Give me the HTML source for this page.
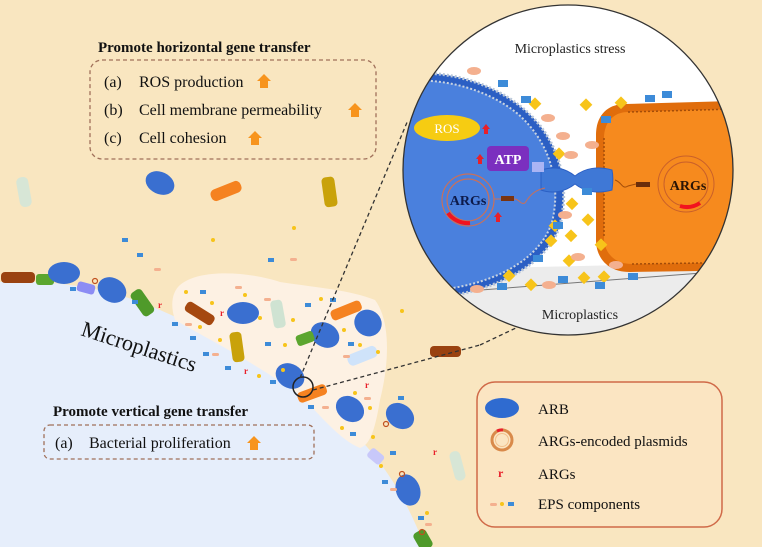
<!DOCTYPE html>
<html><head><meta charset="utf-8"><style>
html,body{margin:0;padding:0;background:#f9e6c0;}
svg{display:block;font-family:"Liberation Serif",serif;}
</style></head><body>
<svg width="762" height="547" viewBox="0 0 762 547" xmlns="http://www.w3.org/2000/svg">
<defs>
<clipPath id="cc"><circle cx="568" cy="170" r="165"/></clipPath>
<g id="up"><path d="M-4,0 L4,0 L4,-7 L7,-7 L0,-14 L-7,-7 L-4,-7 Z" fill="#f7941d"/></g>
<g id="rup"><path d="M-2,0 L2,0 L2,-5 L4,-5 L0,-10 L-4,-5 L-2,-5 Z" fill="#e8202a"/></g>
</defs>
<rect width="762" height="547" fill="#f9e6c0"/>
<!-- microplastic surface -->
<path d="M0,282 C60,280 110,288 160,310 C230,340 290,380 340,420 C380,455 405,495 425,547 L0,547 Z" fill="#e6eefb"/>
<!-- EPS cloud -->
<path d="M180,285 C200,268 250,272 280,282 C320,288 350,290 375,300 C390,320 390,360 380,400 C375,430 370,445 360,448 C340,440 320,415 300,395 C250,360 210,340 175,320 C170,305 172,292 180,285 Z" fill="#fdf1e3"/>
<!-- free bacteria -->
<ellipse cx="160" cy="183" rx="15" ry="11" transform="rotate(25 160 183)" fill="#3a6fd0"/>
<rect x="210" y="185" width="32" height="12" rx="5" transform="rotate(-22 226 191)" fill="#f58220"/>
<rect x="323" y="177" width="13" height="30" rx="4" transform="rotate(-8 329 192)" fill="#c9a20a"/>
<rect x="18" y="177" width="12" height="30" rx="5" transform="rotate(-10 24 192)" fill="#d7e6d6"/>
<rect x="430" y="346" width="31" height="11" rx="4" fill="#9a4210"/>
<rect x="452" y="451" width="11" height="30" rx="5" transform="rotate(-15 457 466)" fill="#d7e6d6"/>
<!-- attached -->
<rect x="1" y="272" width="34" height="11" rx="4" fill="#9a4210"/>
<rect x="36" y="274" width="18" height="11" rx="3" fill="#5ca62f"/>
<ellipse cx="64" cy="273" rx="16" ry="11" fill="#3a6fd0"/>
<rect x="77" y="283" width="18" height="10" rx="3" transform="rotate(15 86 288)" fill="#8c8cf4"/>
<ellipse cx="112" cy="290" rx="15" ry="12" transform="rotate(30 112 290)" fill="#3a6fd0"/>
<rect x="136" y="289" width="13" height="28" rx="4" transform="rotate(-35 142 303)" fill="#4f9a2a"/>
<rect x="184" y="308" width="32" height="11" rx="4" transform="rotate(32 200 313)" fill="#a5480f"/>
<ellipse cx="243" cy="313" rx="16" ry="11" fill="#3a6fd0"/>
<rect x="272" y="300" width="12" height="28" rx="4" transform="rotate(-10 278 314)" fill="#cfe3d2"/>
<rect x="231" y="332" width="12" height="30" rx="4" transform="rotate(-8 237 347)" fill="#c9a20a"/>
<rect x="330" y="305" width="32" height="11" rx="4" transform="rotate(-22 346 310)" fill="#f58220"/>
<ellipse cx="368" cy="323" rx="14" ry="13" transform="rotate(35 368 323)" fill="#3a6fd0"/>
<ellipse cx="325" cy="335" rx="15" ry="12" transform="rotate(30 325 335)" fill="#3a6fd0"/>
<rect x="296" y="333" width="18" height="11" rx="3" transform="rotate(-20 305 338)" fill="#5ca62f"/>
<rect x="347" y="350" width="31" height="12" rx="5" transform="rotate(-22 362 356)" fill="#cfe3fa"/>
<ellipse cx="290" cy="376" rx="15" ry="12" transform="rotate(30 290 376)" fill="#3a6fd0"/>
<rect x="297" y="388" width="30" height="11" rx="4" transform="rotate(-20 312 393)" fill="#f58220"/>
<ellipse cx="350" cy="409" rx="15" ry="12" transform="rotate(35 350 409)" fill="#3a6fd0"/>
<ellipse cx="400" cy="416" rx="15" ry="12" transform="rotate(35 400 416)" fill="#3a6fd0"/>
<rect x="368" y="451" width="16" height="11" rx="3" transform="rotate(40 376 456)" fill="#c8c8fa"/>
<ellipse cx="408" cy="490" rx="12" ry="16" transform="rotate(-20 408 490)" fill="#3a6fd0"/>
<rect x="416" y="530" width="14" height="20" rx="4" transform="rotate(-30 423 540)" fill="#4f9a2a"/>
<!-- EPS dots -->
<g fill="#3d8bd8">
<rect x="122" y="238" width="6" height="4"/><rect x="137" y="253" width="6" height="4"/><rect x="268" y="258" width="6" height="4"/>
<rect x="70" y="287" width="6" height="4"/><rect x="132" y="300" width="6" height="4"/><rect x="172" y="322" width="6" height="4"/>
<rect x="200" y="290" width="6" height="4"/><rect x="190" y="336" width="6" height="4"/><rect x="203" y="352" width="6" height="4"/>
<rect x="265" y="342" width="6" height="4"/><rect x="305" y="303" width="6" height="4"/><rect x="330" y="298" width="6" height="4"/>
<rect x="348" y="342" width="6" height="4"/><rect x="225" y="366" width="6" height="4"/><rect x="270" y="380" width="6" height="4"/>
<rect x="308" y="405" width="6" height="4"/><rect x="350" y="432" width="6" height="4"/><rect x="390" y="451" width="6" height="4"/>
<rect x="382" y="480" width="6" height="4"/><rect x="418" y="516" width="6" height="4"/><rect x="398" y="396" width="6" height="4"/>
</g>
<g fill="#f7c41a">
<circle cx="213" cy="240" r="2"/><circle cx="294" cy="228" r="2"/><circle cx="186" cy="292" r="2"/><circle cx="245" cy="295" r="2"/>
<circle cx="212" cy="303" r="2"/><circle cx="200" cy="327" r="2"/><circle cx="220" cy="340" r="2"/><circle cx="260" cy="318" r="2"/>
<circle cx="285" cy="345" r="2"/><circle cx="293" cy="320" r="2"/><circle cx="321" cy="299" r="2"/><circle cx="259" cy="376" r="2"/>
<circle cx="344" cy="330" r="2"/><circle cx="360" cy="345" r="2"/><circle cx="378" cy="352" r="2"/><circle cx="402" cy="311" r="2"/>
<circle cx="283" cy="370" r="2"/><circle cx="355" cy="393" r="2"/><circle cx="370" cy="408" r="2"/><circle cx="342" cy="428" r="2"/>
<circle cx="373" cy="437" r="2"/><circle cx="381" cy="466" r="2"/><circle cx="427" cy="513" r="2"/>
</g>
<g fill="#f4b08f">
<rect x="154" y="268" width="7" height="3" rx="1.5"/><rect x="235" y="286" width="7" height="3" rx="1.5"/><rect x="290" y="258" width="7" height="3" rx="1.5"/>
<rect x="185" y="323" width="7" height="3" rx="1.5"/><rect x="264" y="298" width="7" height="3" rx="1.5"/><rect x="212" y="353" width="7" height="3" rx="1.5"/>
<rect x="343" y="355" width="7" height="3" rx="1.5"/><rect x="364" y="397" width="7" height="3" rx="1.5"/><rect x="322" y="406" width="7" height="3" rx="1.5"/>
<rect x="390" y="488" width="7" height="3" rx="1.5"/><rect x="425" y="523" width="7" height="3" rx="1.5"/>
</g>
<g fill="#e8202a" font-size="9" font-weight="bold">
<text x="158" y="308">r</text><text x="220" y="316">r</text><text x="244" y="374">r</text><text x="365" y="388">r</text><text x="433" y="455">r</text>
</g>
<circle cx="95" cy="281" r="2.5" fill="none" stroke="#c0501f" stroke-width="1.2"/>
<circle cx="386" cy="424" r="2.5" fill="none" stroke="#c0501f" stroke-width="1.2"/>
<circle cx="402" cy="474" r="2.5" fill="none" stroke="#c0501f" stroke-width="1.2"/>
<circle cx="422" cy="532" r="2.5" fill="none" stroke="#c0501f" stroke-width="1.2"/>
<!-- Microplastics label -->
<text x="80" y="335" font-size="22" transform="rotate(18 80 335)" fill="#111">Microplastics</text>
<!-- zoom circle + dashed lines -->
<circle cx="303" cy="387" r="10" fill="none" stroke="#222" stroke-width="1.5"/>
<line x1="300" y1="378" x2="408" y2="120" stroke="#333" stroke-width="1.3" stroke-dasharray="4,3"/>
<line x1="313" y1="390" x2="480" y2="345" stroke="#333" stroke-width="1.3" stroke-dasharray="4,3"/>
<line x1="480" y1="345" x2="537" y2="318" stroke="#333" stroke-width="1.3" stroke-dasharray="4,3"/>

<!-- big circle -->
<g clip-path="url(#cc)">
<rect x="400" y="0" width="362" height="340" fill="#fff"/>
<path d="M400,270 L762,262 L762,340 L400,340 Z" fill="#ececec"/>
<line x1="455" y1="292" x2="740" y2="270" stroke="#777" stroke-width="1"/>
<!-- blue cell -->
<path d="M395,75 C440,68 490,80 525,110 C560,140 570,185 560,225 C550,258 510,285 455,295 L395,300 Z" fill="#2b5fc4"/>
<path d="M395,82 C440,76 486,88 518,114 C552,144 561,186 552,222 C542,254 506,279 453,288 L395,292 Z" fill="#4a80dd"/>
<path d="M395,75 C440,68 490,80 525,110 C560,140 570,185 560,225 C550,258 510,285 455,295" fill="none" stroke="#b8c6d8" stroke-width="3" stroke-dasharray="2,2"/>
<path d="M395,82 C440,76 486,88 518,114 C552,144 561,186 552,222 C542,254 506,279 453,288" fill="none" stroke="#c9d3e0" stroke-width="2" stroke-dasharray="2,2"/>
<!-- orange cell -->
<path d="M625,104 L770,100 L770,270 L630,272 C605,272 596,255 596,240 L596,135 C596,115 608,104 625,104 Z" fill="#e06d0c"/>
<path d="M628,112 L770,108 L770,262 L632,264 C612,264 604,250 604,238 L604,138 C604,122 614,112 628,112 Z" fill="#f68a1e"/>
<path d="M628,112 L770,108 M604,138 L604,238 M632,264 L770,262" fill="none" stroke="#a34c08" stroke-width="1.5" stroke-dasharray="2,2"/>
<!-- pilus -->
<path d="M541,170 C555,166 565,168 575,176 C585,168 598,166 612,170 C614,180 612,188 612,190 C598,194 585,192 575,184 C565,192 552,194 541,190 Z" fill="#3f78d6" stroke="#2b5fc4"/>
<rect x="532" y="162" width="12" height="10" fill="#aab4f4"/>
<!-- ROS / ATP -->
<ellipse cx="447" cy="128" rx="33" ry="13" fill="#f6cc12"/>
<text x="447" y="133" font-size="13" fill="#fff" text-anchor="middle">ROS</text>
<use href="#rup" x="486" y="134"/>
<rect x="487" y="146" width="42" height="25" rx="4" fill="#7b2fbf"/>
<text x="508" y="164" font-size="14" font-weight="bold" fill="#fff" text-anchor="middle">ATP</text>
<use href="#rup" x="480" y="164"/>
<!-- blue plasmid -->
<circle cx="468" cy="200" r="26" fill="none" stroke="#c9705a" stroke-width="1.2"/>
<circle cx="468" cy="200" r="21" fill="none" stroke="#c9705a" stroke-width="1.2"/>
<path d="M448,213 A24,24 0 0 0 470,223" fill="none" stroke="#f2131e" stroke-width="4"/>
<text x="468" y="205" font-size="14" font-weight="bold" fill="#0d1a4a" text-anchor="middle">ARGs</text>
<rect x="501" y="196" width="13" height="5" fill="#7a3410"/>
<path d="M494,199 L501,199 M514,199 C520,199 520,205 525,203 C530,195 535,190 545,188" fill="none" stroke="#c9705a" stroke-width="1"/>
<use href="#rup" x="498" y="222"/>
<!-- orange plasmid -->
<circle cx="686" cy="184" r="28" fill="none" stroke="#c9602a" stroke-width="1"/>
<circle cx="686" cy="184" r="22" fill="none" stroke="#c9602a" stroke-width="1"/>
<path d="M680,206 A24,24 0 0 0 700,203" fill="none" stroke="#f2131e" stroke-width="4"/>
<text x="688" y="190" font-size="14" font-weight="bold" fill="#2a1405" text-anchor="middle">ARGs</text>
<rect x="636" y="182" width="14" height="5" fill="#6b2d0a"/>
<path d="M615,180 C622,182 622,190 628,186 L636,184" fill="none" stroke="#a34c08" stroke-width="1"/>
<!-- EPS inside -->
<g fill="#f7c41a">
<rect x="531" y="99" width="9" height="9" transform="rotate(45 535 103)"/><rect x="555" y="149" width="9" height="9" transform="rotate(45 559 153)"/>
<rect x="582" y="100" width="9" height="9" transform="rotate(45 586 104)"/><rect x="617" y="98" width="9" height="9" transform="rotate(45 621 102)"/>
<rect x="568" y="199" width="9" height="9" transform="rotate(45 572 203)"/><rect x="584" y="215" width="9" height="9" transform="rotate(45 588 219)"/>
<rect x="547" y="236" width="9" height="9" transform="rotate(45 551 240)"/><rect x="567" y="231" width="9" height="9" transform="rotate(45 571 235)"/>
<rect x="597" y="240" width="9" height="9" transform="rotate(45 601 244)"/><rect x="565" y="256" width="9" height="9" transform="rotate(45 569 260)"/>
<rect x="505" y="271" width="9" height="9" transform="rotate(45 509 275)"/><rect x="527" y="280" width="9" height="9" transform="rotate(45 531 284)"/>
<rect x="580" y="273" width="9" height="9" transform="rotate(45 584 277)"/><rect x="600" y="272" width="9" height="9" transform="rotate(45 604 276)"/>
<rect x="551" y="221" width="9" height="9" transform="rotate(45 555 225)"/>
</g>
<g fill="#3d8bd8">
<rect x="498" y="80" width="10" height="7"/><rect x="521" y="96" width="10" height="7"/><rect x="601" y="116" width="10" height="7"/>
<rect x="645" y="95" width="10" height="7"/><rect x="662" y="91" width="10" height="7"/><rect x="582" y="188" width="10" height="7"/>
<rect x="553" y="222" width="10" height="7"/><rect x="533" y="255" width="10" height="7"/><rect x="558" y="276" width="10" height="7"/>
<rect x="595" y="282" width="10" height="7"/><rect x="628" y="273" width="10" height="7"/><rect x="497" y="283" width="10" height="7"/>
</g>
<g fill="#f4b08f">
<ellipse cx="474" cy="71" rx="7" ry="4"/><ellipse cx="548" cy="118" rx="7" ry="4"/><ellipse cx="563" cy="136" rx="7" ry="4"/>
<ellipse cx="592" cy="145" rx="7" ry="4"/><ellipse cx="571" cy="155" rx="7" ry="4"/><ellipse cx="565" cy="215" rx="7" ry="4"/>
<ellipse cx="578" cy="257" rx="7" ry="4"/><ellipse cx="616" cy="265" rx="7" ry="4"/><ellipse cx="549" cy="285" rx="7" ry="4"/>
<ellipse cx="477" cy="289" rx="7" ry="4"/>
</g>
</g>
<circle cx="568" cy="170" r="165" fill="none" stroke="#333" stroke-width="1.3"/>
<text x="570" y="53" font-size="14" text-anchor="middle" fill="#222">Microplastics stress</text>
<text x="580" y="319" font-size="14" text-anchor="middle" fill="#222">Microplastics</text>

<!-- top text -->
<text x="98" y="52" font-size="15" font-weight="bold" fill="#111">Promote horizontal gene transfer</text>
<rect x="90" y="60" width="286" height="99" rx="12" fill="none" stroke="#a0705a" stroke-width="1.3" stroke-dasharray="4,3"/>
<g font-size="16" fill="#111">
<text x="104" y="87">(a)</text><text x="139" y="87">ROS production</text>
<text x="104" y="115">(b)</text><text x="139" y="115">Cell membrane permeability</text>
<text x="104" y="143">(c)</text><text x="139" y="143">Cell  cohesion</text>
</g>
<use href="#up" x="264" y="88"/><use href="#up" x="355" y="117"/><use href="#up" x="255" y="145"/>

<!-- bottom left text -->
<text x="53" y="416" font-size="15" font-weight="bold" fill="#111">Promote vertical gene transfer</text>
<rect x="44" y="425" width="270" height="34" rx="6" fill="none" stroke="#a0705a" stroke-width="1.3" stroke-dasharray="4,3"/>
<text x="55" y="448" font-size="16" fill="#111">(a)</text><text x="89" y="448" font-size="16" fill="#111">Bacterial proliferation</text>
<use href="#up" x="254" y="450"/>

<!-- legend -->
<rect x="477" y="382" width="245" height="145" rx="18" fill="#fbe5c2" stroke="#d06a48" stroke-width="1.5"/>
<ellipse cx="502" cy="408" rx="17" ry="10" fill="#2f6bd0"/>
<text x="538" y="414" font-size="15" fill="#111">ARB</text>
<circle cx="502" cy="440" r="10" fill="none" stroke="#d98a4a" stroke-width="3"/>
<circle cx="502" cy="440" r="6.5" fill="none" stroke="#f2c08c" stroke-width="1"/>
<path d="M497,431 A10,10 0 0 1 503,430" stroke="#e8202a" stroke-width="3" fill="none"/>
<text x="538" y="446" font-size="15" fill="#111">ARGs-encoded plasmids</text>
<text x="498" y="477" font-size="12" font-weight="bold" fill="#e8202a">r</text>
<text x="538" y="479" font-size="15" fill="#111">ARGs</text>
<rect x="490" y="503" width="7" height="3" rx="1.5" fill="#f4b08f"/>
<circle cx="502" cy="504" r="2" fill="#f7c41a"/>
<rect x="508" y="502" width="6" height="4" fill="#3d8bd8"/>
<text x="538" y="509" font-size="15" fill="#111">EPS components</text>
</svg>
</body></html>
